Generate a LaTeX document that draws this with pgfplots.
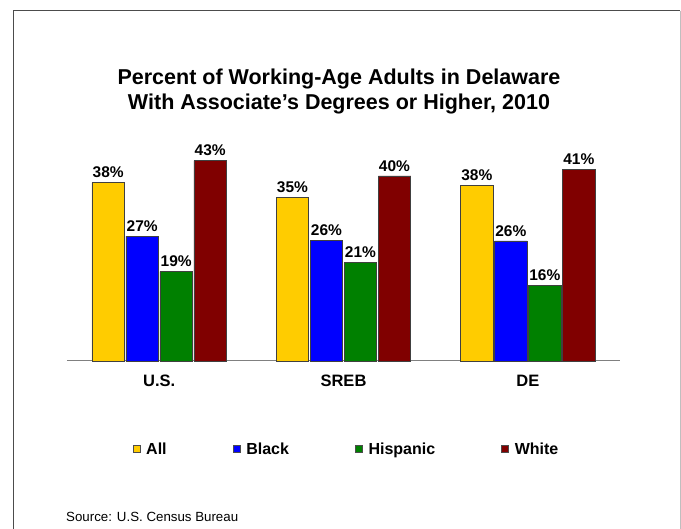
\documentclass[border=0pt]{standalone}
\usepackage{pgfplots}
\pgfplotsset{compat=1.18}
\usepackage{fontspec}
\setmainfont{Liberation Sans}
\definecolor{cAll}{HTML}{FFCC00}
\definecolor{cBlack}{HTML}{0000FF}
\definecolor{cHisp}{HTML}{008000}
\definecolor{cWhite}{HTML}{800000}
\begin{document}
\begin{tikzpicture}
\useasboundingbox (0pt,0pt) rectangle (681pt,529pt);
\fill[white] (0pt,0pt) rectangle (681pt,529pt);
\draw[black!70, line width=1pt] (13pt,0pt) -- (13pt,518pt) -- (680pt,518pt);
\draw[black!25, line width=1pt] (680pt,518pt) -- (680pt,0pt);
\node[font=\bfseries\fontsize{21.5}{25}\selectfont, align=center] at (339pt,438pt)
  {Percent of Working-Age Adults in Delaware\\With Associate’s Degrees or Higher, 2010};
\node[font=\fontsize{13.3}{16}\selectfont, anchor=west, inner sep=0pt] at (66pt,12pt) {Source: U.S. Census Bureau};
\begin{axis}[
  at={(67pt,168pt)}, anchor=south west,
  scale only axis, width=553pt, height=233pt,
  xmin=-0.5, xmax=2.5, ymin=0, ymax=50,
  axis x line=bottom, axis y line=none,
  x axis line style={draw=gray, line width=1pt, -},
  xtick={0,1,2}, xticklabels={U.S.,SREB,DE},
  major tick length=0pt,
  xticklabel style={font=\bfseries\fontsize{16.5}{19}\selectfont, text height=12pt, text depth=0pt, yshift=-10pt},
  ybar, bar width=32.5pt, ybar=1.5pt,
  clip=false,
  /pgf/number format/assume math mode=true,
  nodes near coords={\pgfmathprintnumber[fixed,precision=0,assume math mode=true]{\pgfplotspointmeta}\%},
  every node near coord/.append style={font=\bfseries\fontsize{15.5}{18}\selectfont, yshift=1pt},
  legend columns=4,
  legend image code/.code={\draw[#1, draw=black!70, line width=0.6pt] (0pt,-3.5pt) rectangle (7pt,3.5pt);},
  legend style={draw=none, fill=none, at={(0.5,0)}, anchor=center, yshift=-88pt, xshift=3pt,
    font=\bfseries\fontsize{16}{19}\selectfont,
    /tikz/every odd column/.append style={column sep=4pt},
    /tikz/every even column/.append style={column sep=64pt}},
]
\addplot[fill=cAll, draw=black!75, line width=0.8pt] coordinates {(0,38.3) (1,35.0) (2,37.6)};
\addplot[fill=cBlack, draw=black!75, line width=0.8pt] coordinates {(0,26.8) (1,25.8) (2,25.75)};
\addplot[fill=cHisp, draw=black!75, line width=0.8pt] coordinates {(0,19.2) (1,21.2) (2,16.3)};
\addplot[fill=cWhite, draw=black!75, line width=0.8pt] coordinates {(0,43.0) (1,39.7) (2,41.1)};
\legend{All,Black,Hispanic,White}
\end{axis}
\end{tikzpicture}
\end{document}
